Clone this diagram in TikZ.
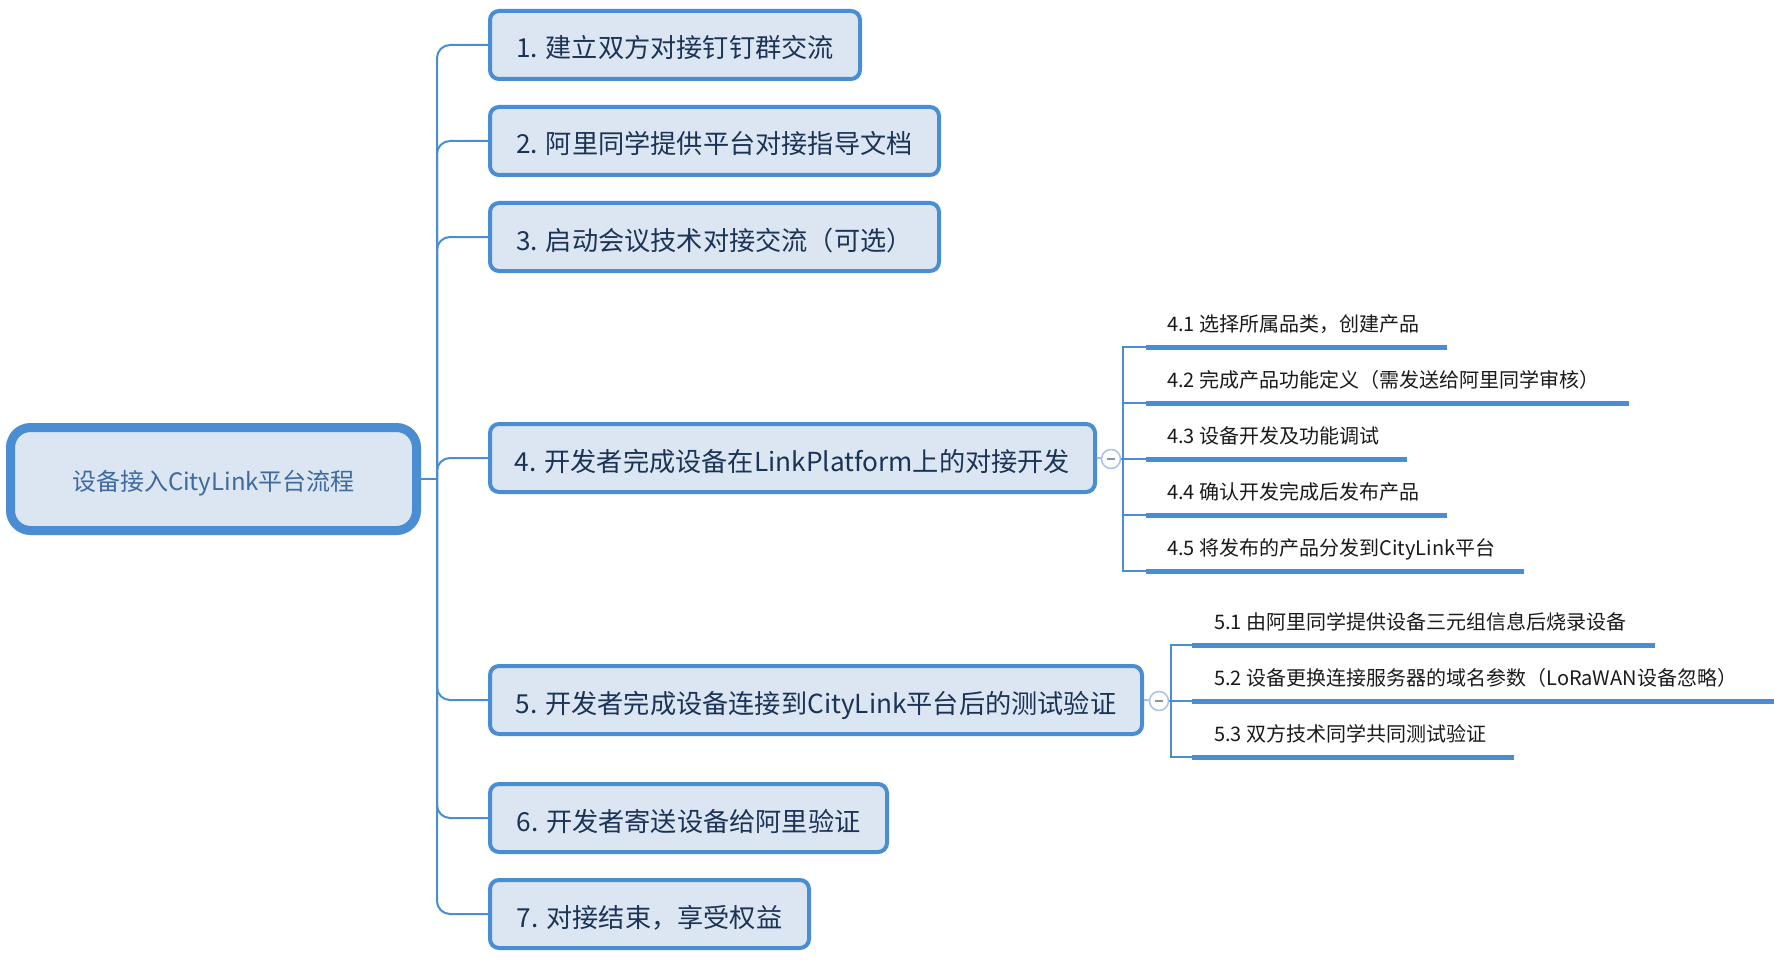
\documentclass[tikz,border=0pt]{standalone}
\usepackage{fontspec}
\setmainfont{Noto Sans CJK SC}
\definecolor{boxline}{HTML}{4A8DD2}
\definecolor{boxfill}{HTML}{DCE6F2}
\definecolor{topictext}{HTML}{1B3456}
\definecolor{roottext}{HTML}{3E6A9F}
\definecolor{subtext}{HTML}{1A1A1A}
\definecolor{foldline}{HTML}{A8C1EC}
\definecolor{foldmark}{HTML}{8A96A8}

\begin{document}
\begin{tikzpicture}[x=1pt, y=-1pt,
    root/.style={draw=boxline, line width=9pt, fill=boxfill, rounded corners=20pt,
        minimum width=406pt, minimum height=103pt, text=roottext,
        text height=22pt, text depth=0pt, font=\fontsize{24}{29}\selectfont},
    topic/.style={draw=boxline, line width=4pt, fill=boxfill, rounded corners=9pt,
        minimum height=68pt, text=topictext, text height=26pt, text depth=0pt,
        font=\fontsize{26.2}{31}\selectfont},
    sub/.style={anchor=south west, inner xsep=21pt, inner ysep=0pt, text depth=15pt,
        text=subtext, font=\fontsize{20}{24}\selectfont},
    branch/.style={draw=boxline, line width=2pt},
    underline/.style={draw=boxline, line width=5pt},
    fold/.style={circle, draw=foldline, line width=1.5pt, fill=white,
        minimum size=19pt, inner sep=0pt}]
    \useasboundingbox (0,0) rectangle (1774,960);

    % central topic and its main branches
    \node[root] (root) at (213.5,479) {设备接入CityLink平台流程};
    \coordinate (hub) at (437,479);
    \node[topic, minimum width=370pt] (t1) at (675,45) {1. 建立双方对接钉钉群交流};
    \node[topic, minimum width=449pt] (t2) at (714.5,141) {2. 阿里同学提供平台对接指导文档};
    \node[topic, minimum width=449pt] (t3) at (714.5,237) {3. 启动会议技术对接交流（可选）};
    \node[topic, minimum width=605pt] (t4) at (792.5,458) {4. 开发者完成设备在LinkPlatform上的对接开发};
    \node[topic, minimum width=652pt] (t5) at (816,700) {5. 开发者完成设备连接到CityLink平台后的测试验证};
    \node[topic, minimum width=397pt] (t6) at (688.5,818) {6. 开发者寄送设备给阿里验证};
    \node[topic, minimum width=319pt] (t7) at (649.5,914) {7. 对接结束，享受权益};
    \draw[branch] (root.east) -- (hub);
    \foreach \i in {1,...,7}
        \draw[branch, rounded corners=13pt] (hub) |- (t\i.west);

    % subtopics of 4
    \node[fold] (f4) at (1111,459) {\textcolor{foldmark}{\rule[-1pt]{8pt}{2pt}}};
    \coordinate (k4) at (1123,459);
    \draw[branch, draw=foldline] (t4.east) -- (f4);
    \draw[branch] (f4) -- (k4);
    \node[sub] (s41) at (1146,347) {4.1 选择所属品类，创建产品};
    \node[sub] (s42) at (1146,403) {4.2 完成产品功能定义（需发送给阿里同学审核）};
    \node[sub] (s43) at (1146,459) {4.3 设备开发及功能调试};
    \node[sub] (s44) at (1146,515) {4.4 确认开发完成后发布产品};
    \node[sub] (s45) at (1146,571) {4.5 将发布的产品分发到CityLink平台};
    \foreach \i in {1,...,5}
        \draw[branch] (k4) |- (s4\i.south west);
    \draw[underline] (s41.south west) -- ++(301,0);
    \draw[underline] (s42.south west) -- ++(483,0);
    \draw[underline] (s43.south west) -- ++(261,0);
    \draw[underline] (s44.south west) -- ++(301,0);
    \draw[underline] (s45.south west) -- ++(378,0);

    % subtopics of 5
    \node[fold] (f5) at (1159,701) {\textcolor{foldmark}{\rule[-1pt]{8pt}{2pt}}};
    \coordinate (k5) at (1171,701);
    \draw[branch, draw=foldline] (t5.east) -- (f5);
    \draw[branch] (f5) -- (k5);
    \node[sub, inner xsep=22pt] (s51) at (1192,645) {5.1 由阿里同学提供设备三元组信息后烧录设备};
    \node[sub, inner xsep=22pt] (s52) at (1192,701) {5.2 设备更换连接服务器的域名参数（LoRaWAN设备忽略）};
    \node[sub, inner xsep=22pt] (s53) at (1192,757) {5.3 双方技术同学共同测试验证};
    \foreach \i in {1,...,3}
        \draw[branch] (k5) |- (s5\i.south west);
    \draw[underline] (s51.south west) -- ++(463,0);
    \draw[underline] (s52.south west) -- ++(582,0);
    \draw[underline] (s53.south west) -- ++(322,0);
\end{tikzpicture}
\end{document}
